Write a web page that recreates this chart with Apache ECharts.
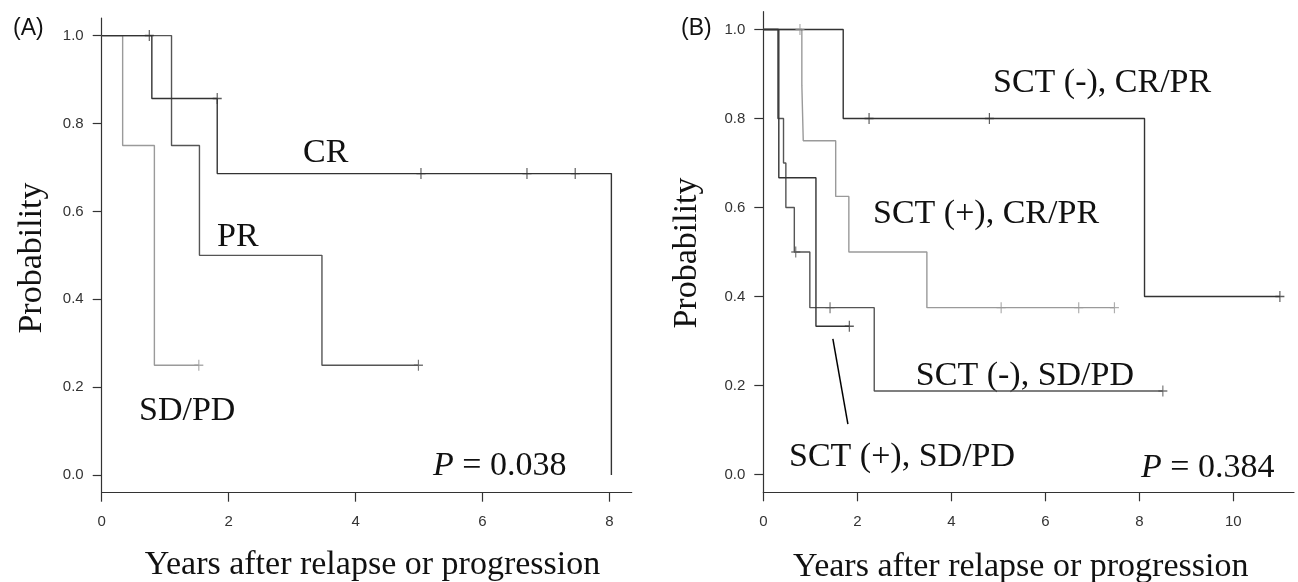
<!DOCTYPE html>
<html>
<head>
<meta charset="utf-8">
<script src="https://cdn.jsdelivr.net/npm/echarts@6/dist/echarts.min.js"></script>
<style>
html,body{margin:0;padding:0;background:#fff;}
#chart{width:1298px;height:582px;}
</style>
</head>
<body>
<div id="chart"></div>
<script>
// ---------- Panel A data (years, survival probability) ----------
const crT = [0, 0.79, 1.82, 8.03];
const crS = [1, 0.857, 0.686, 0];
const crCens = [0.75, 1.82, 5.03, 6.70, 7.46];

const prT = [0, 1.10, 1.54, 3.47, 4.99];
const prS = [1, 0.75, 0.5, 0.25, 0.25];
const prCens = [4.99];

const sdT = [0, 0.33, 0.83, 1.53];
const sdS = [1, 0.75, 0.25, 0.25];
const sdCens = [1.53];

// ---------- Panel B data ----------
const nCrT = [0, 1.70, 8.11, 10.99];          // SCT (-), CR/PR
const nCrS = [1, 0.8, 0.4, 0.4];
const nCrCens = [2.25, 4.81, 10.99];

const pCrT = [0, 0.82, 0.85, 1.54, 1.82, 3.48, 7.47];   // SCT (+), CR/PR
const pCrS = [1, 0.875, 0.75, 0.625, 0.5, 0.375, 0.375];
const pCrCens = [0.78, 5.06, 6.71, 7.47];

const nSdT = [0, 0.31, 0.43, 0.48, 0.66, 0.99, 2.36, 8.50];  // SCT (-), SD/PD
const nSdS = [1, 0.8, 0.7, 0.6, 0.5, 0.375, 0.1875, 0.1875];
const nSdCens = [0.69, 1.42, 8.50];

const pSdT = [0, 0.33, 1.12, 1.83];          // SCT (+), SD/PD
const pSdS = [1, 0.667, 0.333, 0.333];
const pSdCens = [1.83];

const leaderX = [1.48, 1.80];
const leaderY = [0.305, 0.113];

const xTicksA = [0, 2, 4, 6, 8];
const xTicksB = [0, 2, 4, 6, 8, 10];
const yTicks = [0, 0.2, 0.4, 0.6, 0.8, 1.0];

// ---------- helpers ----------
function pts(t, s) { return t.map((v, i) => [v, s[i]]); }
function survAt(t, s, x) {
  let v = s[0];
  for (let i = 0; i < t.length; i++) { if (t[i] < x) v = s[i]; }
  return v;
}
const PLUS = 'path://M4.35,0 L5.65,0 L5.65,4.35 L10,4.35 L10,5.65 L5.65,5.65 L5.65,10 L4.35,10 L4.35,5.65 L0,5.65 L0,4.35 L4.35,4.35 Z';

function curve(t, s, cens, color, gi) {
  return [
    {
      type: 'line', step: 'end', xAxisIndex: gi, yAxisIndex: gi,
      data: pts(t, s), showSymbol: false, symbol: 'none',
      lineStyle: { color: color, width: 1.4 }, silent: true, z: 3
    },
    {
      type: 'scatter', xAxisIndex: gi, yAxisIndex: gi,
      data: cens.map(x => [x, survAt(t, s, x)]),
      symbol: PLUS, symbolSize: [9, 11],
      itemStyle: { color: color }, silent: true, z: 4
    }
  ];
}

const axisCol = '#333';
function xAx(gi, max, ticks) {
  return {
    type: 'value', gridIndex: gi, min: 0, max: max,
    axisLine: { show: true, onZero: false, lineStyle: { color: axisCol, width: 1.2 } },
    axisTick: { show: true, length: 9, customValues: ticks, lineStyle: { color: axisCol, width: 1.2 } },
    axisLabel: { customValues: ticks, margin: 22, fontFamily: 'Liberation Sans', fontSize: 15, color: '#333' },
    splitLine: { show: false }
  };
}
function yAx(gi) {
  return {
    type: 'value', gridIndex: gi, min: -0.04, max: 1.04,
    axisLine: { show: true, onZero: false, lineStyle: { color: axisCol, width: 1.2 } },
    axisTick: { show: true, length: 9, customValues: yTicks, lineStyle: { color: axisCol, width: 1.2 } },
    axisLabel: { customValues: yTicks, margin: 18, fontFamily: 'Liberation Sans', fontSize: 15, color: '#333',
      formatter: v => v.toFixed(1) },
    splitLine: { show: false }
  };
}

const serif = 'Liberation Serif';
function txt(text, x, y, align, size) {
  return { type: 'text', x: x, y: y, silent: true,
    style: { text: text, font: (size || 34) + 'px "' + serif + '"', fill: '#111',
      textAlign: align || 'left', textVerticalAlign: 'middle' } };
}
function ptxt(val, x, y) {
  return { type: 'text', x: x, y: y, silent: true,
    style: { text: '{i|P} = ' + val, font: '34px "' + serif + '"', fill: '#111',
      textAlign: 'left', textVerticalAlign: 'middle',
      rich: { i: { fontStyle: 'italic', fontFamily: serif, fontSize: 34, fill: '#111' } } } };
}

const chart = echarts.init(document.getElementById('chart'));
chart.setOption({
  animation: false,
  backgroundColor: '#fff',
  grid: [
    { left: 101.7, top: 18, width: 530, height: 474.7 },
    { left: 763.3, top: 11.7, width: 530.7, height: 480.6 }
  ],
  xAxis: [xAx(0, 8.35, xTicksA), xAx(1, 11.29, xTicksB)],
  yAxis: [yAx(0), yAx(1)],
  series: [].concat(
    curve(sdT, sdS, sdCens, '#9a9a9a', 0),
    curve(prT, prS, prCens, '#555', 0),
    curve(crT, crS, crCens, '#333', 0),
    curve(pCrT, pCrS, pCrCens, '#9a9a9a', 1),
    curve(nSdT, nSdS, nSdCens, '#555', 1),
    curve(pSdT, pSdS, pSdCens, '#333', 1),
    curve(nCrT, nCrS, nCrCens, '#333', 1),
    [{
      type: 'line', xAxisIndex: 1, yAxisIndex: 1,
      data: pts(leaderX, leaderY), symbol: 'none',
      lineStyle: { color: '#000', width: 1.5 }, silent: true, z: 5
    }]
  ),
  graphic: [
    { type: 'text', x: 13, y: 29, silent: true,
      style: { text: '(A)', font: '23px "Liberation Sans"', fill: '#111', textVerticalAlign: 'middle' } },
    { type: 'text', x: 681, y: 29, silent: true,
      style: { text: '(B)', font: '23px "Liberation Sans"', fill: '#111', textVerticalAlign: 'middle' } },
    txt('CR', 303, 153.5),
    txt('PR', 217, 237.5),
    txt('SD/PD', 139, 411.5),
    ptxt('0.038', 433, 466.5),
    txt('SCT (-), CR/PR', 993, 83),
    txt('SCT (+), CR/PR', 873, 214.5),
    txt('SCT (-), SD/PD', 1134, 376.5, 'right'),
    txt('SCT (+), SD/PD', 789, 457.5),
    ptxt('0.384', 1141, 468.5),
    txt('Years after relapse or progression', 372.5, 565, 'center'),
    txt('Years after relapse or progression', 1020.7, 567, 'center'),
    { type: 'text', x: 32.5, y: 258, rotation: Math.PI / 2, silent: true,
      style: { text: 'Probability', font: '34px "' + serif + '"', fill: '#111',
        textAlign: 'center', textVerticalAlign: 'middle' } },
    { type: 'text', x: 687, y: 253, rotation: Math.PI / 2, silent: true,
      style: { text: 'Probability', font: '34px "' + serif + '"', fill: '#111',
        textAlign: 'center', textVerticalAlign: 'middle' } }
  ]
});
</script>
</body>
</html>
